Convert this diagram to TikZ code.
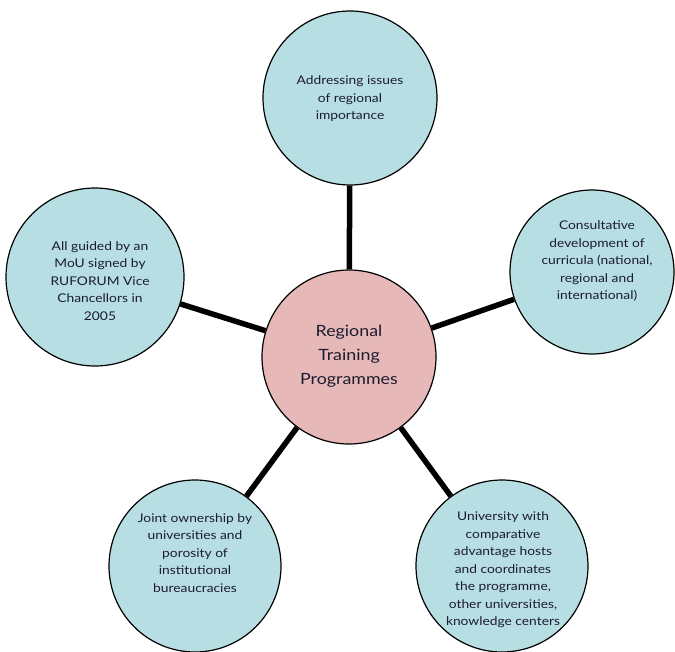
\documentclass[tikz,border=0pt]{standalone}
\usepackage{fontspec}
\setmainfont{Lato}[FakeStretch=1.15]
\definecolor{bluefill}{HTML}{B7DEE3}
\definecolor{pinkfill}{HTML}{E6B8B7}
\definecolor{txt}{HTML}{1C1C30}
\begin{document}
\begin{tikzpicture}[x=1pt,y=-1pt,
  bubble/.style={circle,draw=black,line width=1.2pt,fill=bluefill,inner sep=0pt,
    align=center,text=txt,font=\fontsize{12}{17.5}\selectfont},
  hub/.style={circle,draw=black,line width=1.2pt,fill=pinkfill,inner sep=0pt,
    align=center,text=txt,font=\fontsize{15.5}{24}\selectfont},
  link/.style={line width=5.5pt,black}]
\useasboundingbox (0,0) rectangle (675,651);
\node[hub,minimum size=174pt] (c) at (349,357) {};
\node[bubble,minimum size=174pt] (t) at (350,98) {};
\node[bubble,minimum size=164pt] (r) at (592,272) {};
\node[bubble,minimum size=178pt] (l) at (95,277) {};
\node[bubble,minimum size=172pt] (bl) at (195,566) {};
\node[bubble,minimum size=172pt] (br) at (502,566) {};
\draw[link] (c) -- (t);
\draw[link] (c) -- (r);
\draw[link] (c) -- (l);
\draw[link] (c) -- (bl);
\draw[link] (c) -- (br);
\node[hub,draw=none,fill=none] (ct) at (349,356) {Regional\\Training\\Programmes};
\node[bubble,draw=none,fill=none] (tt) at (350,99) {Addressing issues\\of regional\\importance};
\node[bubble,draw=none,fill=none] (rt) at (597,261) {Consultative\\development of\\curricula (national,\\regional and\\international)};
\node[bubble,draw=none,fill=none] (lt) at (100,281) {All guided by an\\MoU signed by\\RUFORUM Vice\\Chancellors in\\2005};
\node[bubble,draw=none,fill=none] (blt) at (195,553) {Joint ownership by\\universities and\\porosity of\\institutional\\bureaucracies};
\node[bubble,draw=none,fill=none] (brt) at (503,570) {University with\\comparative\\advantage hosts\\and coordinates\\the programme,\\other universities,\\knowledge centers};
\end{tikzpicture}
\end{document}
